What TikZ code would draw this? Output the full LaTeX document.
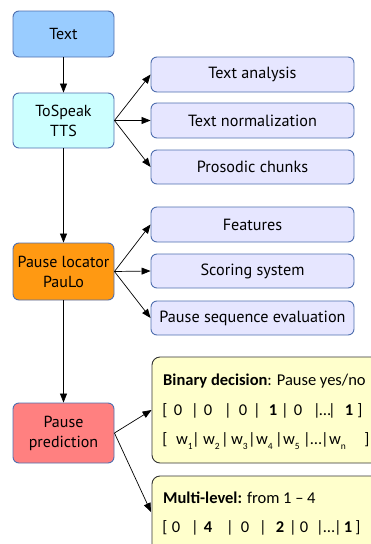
\documentclass[tikz,border=0pt]{standalone}
\usepackage{fontspec}
\setmainfont{PT Sans}
\newfontfamily\carlfont{Carlito}
\usetikzlibrary{arrows.meta}
\definecolor{cText}{HTML}{99CCFF}
\definecolor{cTTS}{HTML}{CCFFFF}
\definecolor{cLav}{HTML}{E6E6FF}
\definecolor{cOrange}{HTML}{FF9912}
\definecolor{cRed}{HTML}{FF8080}
\definecolor{cYel}{HTML}{FFFFCC}
\definecolor{cBorder}{HTML}{4F6FAF}
\tikzset{
  box/.style={draw=cBorder, line width=0.9pt, rounded corners=6pt, minimum width=101pt, align=center, font=\fontsize{16}{20}\selectfont, inner sep=0pt},
  sub/.style={draw=cBorder, line width=0.9pt, rounded corners=6pt, fill=cLav, minimum width=203pt, font=\fontsize{16.2}{18}\selectfont, inner sep=0pt},
  ybox/.style={draw=black!80, line width=0.9pt, rounded corners=8pt, fill=cYel, minimum width=228pt, inner sep=0pt},
  arr/.style={-{Triangle[length=9pt,width=7pt]}, line width=0.7pt},
  yt/.style={anchor=base, inner sep=0pt, font=\carlfont\fontsize{16.5}{19}\selectfont},
}
\begin{document}
\begin{tikzpicture}[x=1pt,y=-1pt]
\useasboundingbox (0,0) rectangle (371,544);
\clip (0,0) rectangle (371,544);
\node[box, fill=cText, minimum height=46pt] (text) at (63.5,34) {Text};
\node[box, fill=cTTS, minimum height=55pt] (tts) at (63.5,120.5) {ToSpeak\\TTS};
\node[sub, minimum height=35pt] (ta) at (252.5,74.5) {Text analysis};
\node[sub, minimum height=35pt] (tn) at (252.5,120.5) {Text normalization};
\node[sub, minimum height=34pt] (pc) at (252.5,167) {Prosodic chunks};
\node[box, fill=cOrange, minimum height=57pt] (paulo) at (63.5,271.5) {Pause locator\\PauLo};
\node[sub, minimum height=35pt] (feat) at (252.5,224.5) {Features};
\node[sub, minimum height=34pt] (score) at (252.5,271) {Scoring system};
\node[sub, minimum height=34pt] (pse) at (252.5,318) {Pause sequence evaluation};
\node[box, fill=cRed, minimum height=60pt] (pred) at (63.5,433) {Pause\\prediction};
\node[ybox, minimum height=106pt] (bin) at (266,410) {};
\node[ybox, minimum height=84pt] (multi) at (266,518) {};
\coordinate (mEnd) at (151,512);

\draw[arr] (text) -- (tts);
\draw[arr] (tts.east) -- (ta.west);
\draw[arr] (tts.east) -- (tn.west);
\draw[arr] (tts.east) -- (pc.west);
\draw[arr] (tts) -- (paulo);
\draw[arr] (paulo.east) -- (feat.west);
\draw[arr] (paulo.east) -- (score.west);
\draw[arr] (paulo.east) -- (pse.west);
\draw[arr] (paulo) -- (pred);
\draw[arr] (pred.east) -- (bin.west);
\draw[arr] (pred.east) -- (mEnd);

% binary content
\node[yt, anchor=base west] (b1) at (163,385) {\textbf{Binary decision}: Pause yes/no};
\foreach \x/\t [count=\i] in {165/[,178/0,195/|,208/0,228/|,243/0,257/|,273/\textbf{1},285/|,298/0,317/|,325/\ldots,332/|,349/\textbf{1},360/]}
  \node[yt] (br\i) at (\x,415) {\t};
\foreach \x/\t [count=\i] in {165/[,196/|,225/|,252/|,279/|,307/|,316/\ldots,325/|,367/]}
  \node[yt] (bw\i) at (\x,444) {\t};
\foreach \x/\s [count=\i] in {176/1,203/2,231/3,256/4,283/5,329/n}
  \node[yt, anchor=base west] (bs\i) at (\x,444) {w\raisebox{-5pt}{\fontsize{9.5}{10}\selectfont\s}};
% multi content
\node[yt, anchor=base west] (m1) at (163,503) {\textbf{Multi-level:} from 1 – 4};
\foreach \x/\t [count=\i] in {165/[,176/0,195/|,208/\textbf{4},230/|,245/0,263/|,280/\textbf{2},293/|,304/0,320/|,329/\ldots,338/|,348/\textbf{1},358/]}
  \node[yt] (mr\i) at (\x,532) {\t};
\end{tikzpicture}
\end{document}
